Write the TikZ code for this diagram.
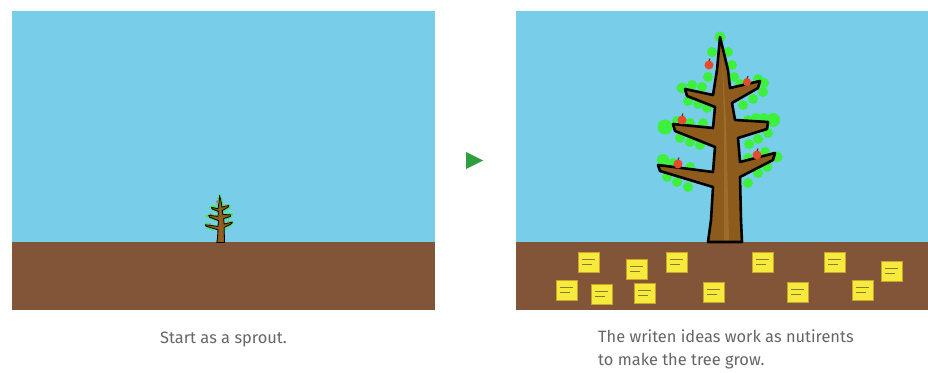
\documentclass[tikz,border=0pt]{standalone}
\usepackage{fontspec}
\setmainfont{Fira Sans}
\usetikzlibrary{calc}
\begin{document}
\definecolor{sky}{HTML}{78CDE9}
\definecolor{soil}{HTML}{825538}
\definecolor{bark}{HTML}{8D5B1C}
\definecolor{barklight}{HTML}{A06C2A}
\definecolor{leaf}{HTML}{3CF03C}
\definecolor{fruit}{HTML}{E84A2E}
\definecolor{note}{HTML}{F6EB3C}
\definecolor{noteedge}{HTML}{C9A52A}
\definecolor{inkmark}{HTML}{8A7A2A}
\definecolor{caption}{HTML}{666666}
\definecolor{go}{HTML}{2E9E3E}
\tikzset{
  leafdot/.style={fill=leaf},
  fruitdot/.style={fill=fruit},
  notebox/.style={fill=note, draw=noteedge, line width=0.7pt},
  scribble/.style={draw=inkmark, line width=0.5pt},
  captext/.style={font=\fontsize{16.4}{19}\selectfont, text=caption, inner sep=0pt},
}
% tree in local coordinates: origin at the foot of the trunk, y pointing down
\newcommand\growntree[1]{%
  \foreach \x/\y/\r in {-4/-205/5.5,-12/-190/5,4/-190/5,8/-177/5,-16/-165/5,10/-165/5,
      -42/-154/5.5,-32/-157/5,-22/-155/5,-36/-141/5,-26/-138/5,-17/-134/5,
      16/-158/5,34/-163/5,40/-159/5,39/-150/5,29/-143/5,19/-137/5,
      -59/-115/7.5,-47/-121/5,-34/-119/5,-21/-119/5,-44/-104/5,-34/-100/5,-24/-97/5,
      24/-122/5,32/-124/5,40/-124/5,49/-122/7,44/-109/5,34/-103/5,25/-98/5,
      -61/-82/6,-51/-79/5,-34/-75/5,-57/-65/5,-47/-60/5,-36/-55/5,
      24/-84/5,41/-90/5,53/-85/5.5,43/-75/5,34/-69/5,24/-59/5}
    \fill[leafdot] (\x,\y) circle [radius=\r];
  \filldraw[fill=bark, draw=black, line width=#1, line join=round]
    (-16,0) -- (-13,-22) -- (-11,-55) -- (-64,-71) -- (-66,-77) -- (-11,-70)
    -- (-9,-95) -- (-49,-111) -- (-51,-118) -- (-11,-114) -- (-9,-135)
    -- (-37,-146) -- (-39,-153) -- (-11,-147) -- (-7,-172) -- (-4,-205)
    -- (4,-172) -- (6,-154) -- (36,-161) -- (34,-154) -- (8,-139) -- (11,-122)
    -- (44,-120) -- (43,-113) -- (14,-104) -- (16,-80) -- (51,-89) -- (49,-82)
    -- (16,-65) -- (17,-22) -- (18,0) -- cycle;
  \fill[barklight] (0,-2) -- (0,-120) -- (-2,-190) -- (2,-120) -- (5,-2) -- cycle;
  \foreach \x/\y/\r in {-15/-177/4.5,23/-160/4,-42/-122/4.5,33/-87/4.5,-46/-78/4.5}{
    \fill[fruitdot] (\x,\y) circle [radius=\r];
    \draw[black!60!fruit, line width=#1*0.4] (\x,\y-\r+0.5) -- (\x+1,\y-\r-2);
  }
}
\begin{tikzpicture}[x=1pt, y=-1pt]
  \useasboundingbox (0,0) rectangle (928,372);
  \fill[white] (0,0) rectangle (928,372);
  % first panel: the sprout
  \fill[sky] (12,11) rectangle (435,242);
  \fill[soil] (12,242) rectangle (435,310);
  \begin{scope}[shift={(220.5,242.5)}, scale=0.23]
    \growntree{0.8pt}
  \end{scope}
  \node[captext, anchor=base] (cap1) at (223.5,343) {Start as a sprout.};
  % arrow between the panels
  \fill[go] (466,152) -- (466,169) -- (483,160.5) -- cycle;
  % second panel: the grown tree fed by notes
  \fill[sky] (516,11) rectangle (928,242);
  \fill[soil] (516,242) rectangle (928,310);
  \begin{scope}[shift={(724,242)}]
    \growntree{2.6pt}
  \end{scope}
  \foreach \p in {{589,262},{637,269},{677,262},{567,290},{602,294},{645,293},{714,292},
                  {763,262},{835,262},{892,271},{798,292},{863,290}}{
    \coordinate (n) at (\p);
    \draw[notebox] ($(n)+(-10.5,-10)$) rectangle ($(n)+(10.5,10)$);
    \draw[scribble] ($(n)+(-7,-2.5)$) -- ($(n)+(6,-2.5)$);
    \draw[scribble] ($(n)+(-7,2)$) -- ($(n)+(3,2)$);
  }
  \node[captext, anchor=base west] (cap2a) at (598,342) {The writen ideas work as nutirents};
  \node[captext, anchor=base west] (cap2b) at (598,365) {to make the tree grow.};
\end{tikzpicture}
\end{document}
